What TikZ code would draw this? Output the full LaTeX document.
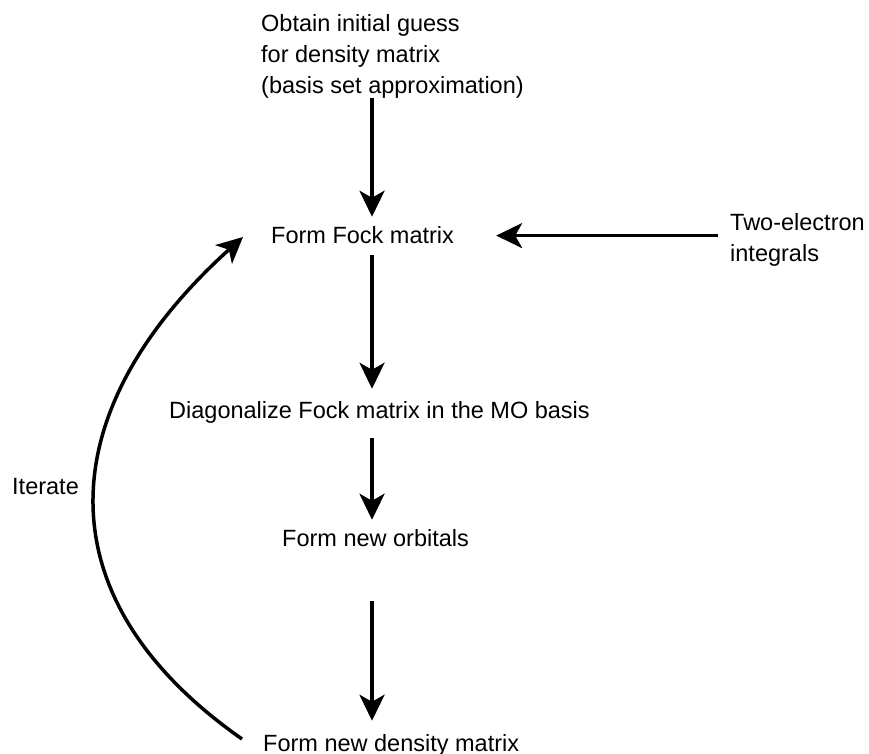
\documentclass[tikz,border=0pt]{standalone}
\usepackage{fontspec}
\setmainfont{Liberation Sans}
\usetikzlibrary{arrows.meta}
\begin{document}
\begin{tikzpicture}[x=1pt,y=1pt,
  lbl/.style={inner sep=0pt, font=\fontsize{23.5}{31}\selectfont, align=left},
  arr/.style={line width=3.5pt, -{Stealth[length=26pt,width=25pt,inset=7pt]}}]
\useasboundingbox[fill=white] (0,0) rectangle (869,753);
\node[lbl, anchor=north west] (init) at (261,739) {Obtain initial guess\\for density matrix\\(basis set approximation)};
\node[lbl, anchor=base west] (fock) at (271,509) {Form Fock matrix};
\node[lbl, anchor=north west] (two) at (730,540) {Two-electron\\integrals};
\node[lbl, anchor=base west] (diag) at (169,335) {Diagonalize Fock matrix in the MO basis};
\node[lbl, anchor=base west] (orb) at (282,207) {Form new orbitals};
\node[lbl, anchor=base west] (dens) at (263,2) {Form new density matrix};
\node[lbl, anchor=base west] (iter) at (12,259) {Iterate};
\coordinate (ax) at (372,0);
\coordinate (cb) at (242,14);
\coordinate (ct) at (243,516);
\draw[arr, shorten >=10pt] (init.south -| ax) -- (fock.north -| ax);
\draw[arr, shorten <=11pt, shorten >=12pt] (fock.south -| ax) -- (diag.north -| ax);
\draw[arr, shorten <=15pt, shorten >=9pt] (diag.south -| ax) -- (orb.north -| ax);
\draw[arr, shorten <=55pt, shorten >=13pt] (orb.south -| ax) -- (dens.north -| ax);
\draw[arr, shorten <=12pt, shorten >=42pt] (two.west |- fock) -- (fock.east);
\draw[arr] (cb) .. controls +(145:250) and +(222:255) .. (ct);
\end{tikzpicture}
\end{document}
